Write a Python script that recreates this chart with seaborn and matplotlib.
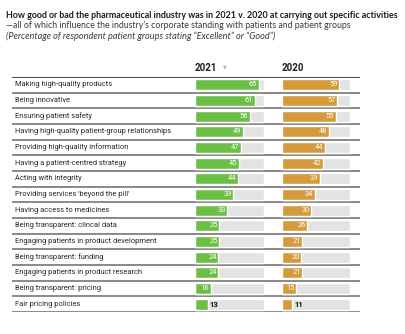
import matplotlib
matplotlib.use("Agg")
import matplotlib.pyplot as plt
import seaborn as sns
import pandas as pd

# Activities and the share of patient groups rating them "Excellent" or "Good"
activities = [
    "Making high-quality products",
    "Being innovative",
    "Ensuring patient safety",
    "Having high-quality patient-group relationships",
    "Providing high-quality information",
    "Having a patient-centred strategy",
    "Acting with integrity",
    "Providing services 'beyond the pill'",
    "Having access to medicines",
    "Being transparent: clincal data",
    "Engaging patients in product development",
    "Being transparent: funding",
    "Engaging patients in product research",
    "Being transparent: pricing",
    "Fair pricing policies",
]
scores_2021 = [65, 61, 56, 49, 47, 45, 44, 39, 33, 25, 25, 24, 24, 16, 13]
scores_2020 = [59, 57, 55, 48, 44, 42, 39, 34, 30, 26, 21, 20, 21, 15, 11]
years = ["2021", "2020"]
scale_max = 70

title = ("How good or bad the pharmaceutical industry was in 2021 v. 2020 "
         "at carrying out specific activities")
subtitle = ("\u2014all of which influence the industry\u2019s corporate standing "
            "with patients and patient groups")
note = "(Percentage of respondent patient groups stating \u201cExcellent\u201d or \u201cGood\u201d)"

GREEN = "#6cbf45"
ORANGE = "#d49a3c"
TRACK = "#e3e3e3"

sns.set_theme(style="white")
plt.rcParams["font.family"] = ["Roboto", "DejaVu Sans"]

W, H = 406, 334
fig = plt.figure(figsize=(W / 100, H / 100), dpi=100)


def fig_box(x0, y0, x1, y1):
    """Pixel box (top-left origin) -> figure fraction rect."""
    return [x0 / W, 1 - y1 / H, (x1 - x0) / W, (y1 - y0) / H]


df = pd.DataFrame({
    "activity": activities,
    "2021": scores_2021,
    "2020": scores_2020,
    "track": [scale_max] * len(activities),
})
n = len(activities)

# Table frame: row labels and separator rules
ax_tab = fig.add_axes(fig_box(12, 77, 360, 312))
ax_tab.set_xlim(0, 1)
ax_tab.set_ylim(n - 0.5, -0.5)
ax_tab.axis("off")
for i, name in enumerate(activities):
    ax_tab.text(0.009, i, name, va="center", ha="left", fontsize=5.4,
                color="#262626")
ax_tab.axhline(-0.5, color="#3a3a3a", lw=1.3)
for i in range(n):
    ax_tab.axhline(i + 0.5, color="#6a6a6a", lw=1.1)

# One bar panel per year
panels = [(years[0], GREEN, 195), (years[1], ORANGE, 281.7)]
for year, colour, x_left in panels:
    ax = fig.add_axes(fig_box(x_left, 77, x_left + 68.5, 312))
    sns.barplot(data=df, y="activity", x="track", color=TRACK, width=0.72,
                saturation=1, ax=ax, zorder=1)
    sns.barplot(data=df, y="activity", x=year, color=colour, width=0.72,
                saturation=1, ax=ax, zorder=2)
    ax.set_xlim(0, scale_max)
    ax.set_ylim(n - 0.5, -0.5)
    ax.axis("off")
    for i, v in enumerate(df[year]):
        if v >= 14:
            ax.text(v - 1.5, i, str(v), ha="right", va="center",
                    fontsize=5.4, color="white", zorder=3)
        else:
            ax.text(v + 2.0, i, str(v), ha="left", va="center",
                    fontsize=5.6, color="#111111", fontweight="bold",
                    zorder=3)
    ax.text(0, -0.75, year, ha="left", va="bottom", fontsize=7,
            fontweight="bold", color="#1a1a1a")

# Sort marker next to the 2021 header
fig.text(223 / W, 1 - 67 / H, "\u25bc", fontsize=3.5, color="#b0b0b0",
         ha="left", va="center", family=["DejaVu Sans"])

# Headline text
fig.text(6 / W, 1 - 15 / H, title, fontsize=6.4, fontweight="bold",
         color="#1a1a1a", ha="left", va="center", family=["Lato", "DejaVu Sans"])
fig.text(6 / W, 1 - 25.5 / H, subtitle, fontsize=6.3, color="#3a3a3a",
         ha="left", va="center", family=["Lato", "DejaVu Sans"])
fig.text(6 / W, 1 - 36.5 / H, note, fontsize=6.6, color="#3a3a3a",
         style="italic", ha="left", va="center", family=["Lato", "DejaVu Sans"])

fig.savefig("out.png", dpi=100)
